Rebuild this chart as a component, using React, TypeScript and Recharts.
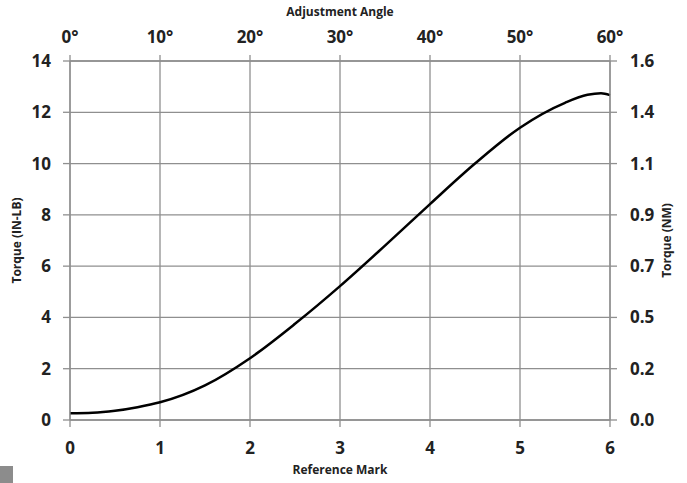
import React from "react";
import { LineChart, Line, XAxis, YAxis, CartesianGrid } from "recharts";

const referenceMarks = [0, 0.25, 0.5, 0.75, 1, 1.5, 2, 2.5, 3, 3.5, 4, 4.5, 5, 5.5, 5.75, 5.9, 6];
const torqueInLb = [0.26, 0.28, 0.36, 0.5, 0.69, 1.35, 2.41, 3.75, 5.22, 6.8, 8.42, 10.0, 11.4, 12.37, 12.68, 12.74, 12.67];

const markTicks = [0, 1, 2, 3, 4, 5, 6];
const angleLabels = ["0°", "10°", "20°", "30°", "40°", "50°", "60°"];
const inLbTicks = [0, 2, 4, 6, 8, 10, 12, 14];
const nmLabels = ["0.0", "0.2", "0.5", "0.7", "0.9", "1.1", "1.4", "1.6"];

const data = referenceMarks.map((m, i) => ({ mark: m, torque: torqueInLb[i] }));

const FONT = "'Open Sans', sans-serif";
const GRID = "#8f8f8f";
const TEXT = "#222222";

const tickStyle = { fontFamily: FONT, fontWeight: 700, fontSize: 17, fill: TEXT };
const titleStyle = { fontFamily: FONT, fontWeight: 700, fontSize: 12, fill: TEXT };

export default function App() {
  return (
    <div style={{ position: "absolute", left: 0, top: 0, width: 687, height: 483, background: "#fff" }}>
      <LineChart width={687} height={483} data={data} margin={{ top: 0, right: 0, bottom: 0, left: 0 }}>
        <CartesianGrid stroke={GRID} strokeWidth={1.3} horizontal vertical xAxisId="bottom" yAxisId="left" />
        <XAxis
          xAxisId="bottom"
          dataKey="mark"
          type="number"
          domain={[0, 6]}
          ticks={markTicks}
          orientation="bottom"
          height={63}
          tickSize={7}
          tickMargin={15}
          axisLine={{ stroke: GRID, strokeWidth: 1.3 }}
          tickLine={{ stroke: GRID, strokeWidth: 1.3 }}
          tick={tickStyle}
          label={{ value: "Reference Mark", position: "insideBottom", offset: 9, style: titleStyle }}
        />
        <XAxis
          xAxisId="top"
          dataKey="mark"
          type="number"
          domain={[0, 6]}
          ticks={markTicks}
          orientation="top"
          height={61}
          tickSize={6}
          tickMargin={12}
          tickFormatter={(v: number) => angleLabels[markTicks.indexOf(v)]}
          axisLine={{ stroke: GRID, strokeWidth: 1.3 }}
          tickLine={{ stroke: GRID, strokeWidth: 1.3 }}
          tick={tickStyle}
          label={{ value: "Adjustment Angle", position: "insideTop", offset: 7, style: titleStyle }}
        />
        <YAxis
          yAxisId="left"
          orientation="left"
          type="number"
          domain={[0, 14]}
          ticks={inLbTicks}
          width={70}
          tickSize={7}
          tickMargin={12}
          axisLine={{ stroke: GRID, strokeWidth: 1.3 }}
          tickLine={{ stroke: GRID, strokeWidth: 1.3 }}
          tick={tickStyle}
          label={{ value: "Torque (IN-LB)", angle: -90, position: "insideLeft", offset: 17, style: { ...titleStyle, textAnchor: "middle" } }}
        />
        <YAxis
          yAxisId="right"
          orientation="right"
          type="number"
          domain={[0, 14]}
          ticks={inLbTicks}
          width={77}
          tickSize={7}
          tickMargin={13}
          tickFormatter={(v: number) => nmLabels[inLbTicks.indexOf(v)]}
          axisLine={{ stroke: GRID, strokeWidth: 1.3 }}
          tickLine={{ stroke: GRID, strokeWidth: 1.3 }}
          tick={tickStyle}
          label={{ value: "Torque (NM)", angle: -90, position: "insideRight", offset: 20, style: { ...titleStyle, textAnchor: "middle" } }}
        />
        <Line
          xAxisId="top"
          yAxisId="right"
          type="monotone"
          dataKey="torque"
          stroke="none"
          strokeWidth={0}
          dot={false}
          activeDot={false}
          legendType="none"
          isAnimationActive={false}
        />
        <Line
          xAxisId="bottom"
          yAxisId="left"
          type="monotone"
          dataKey="torque"
          stroke="#000"
          strokeWidth={2.5}
          dot={false}
          isAnimationActive={false}
        />
      </LineChart>
      <div style={{ position: "absolute", left: 0, top: 466, width: 13, height: 17, background: "#8c8c8c" }} />
    </div>
  );
}
